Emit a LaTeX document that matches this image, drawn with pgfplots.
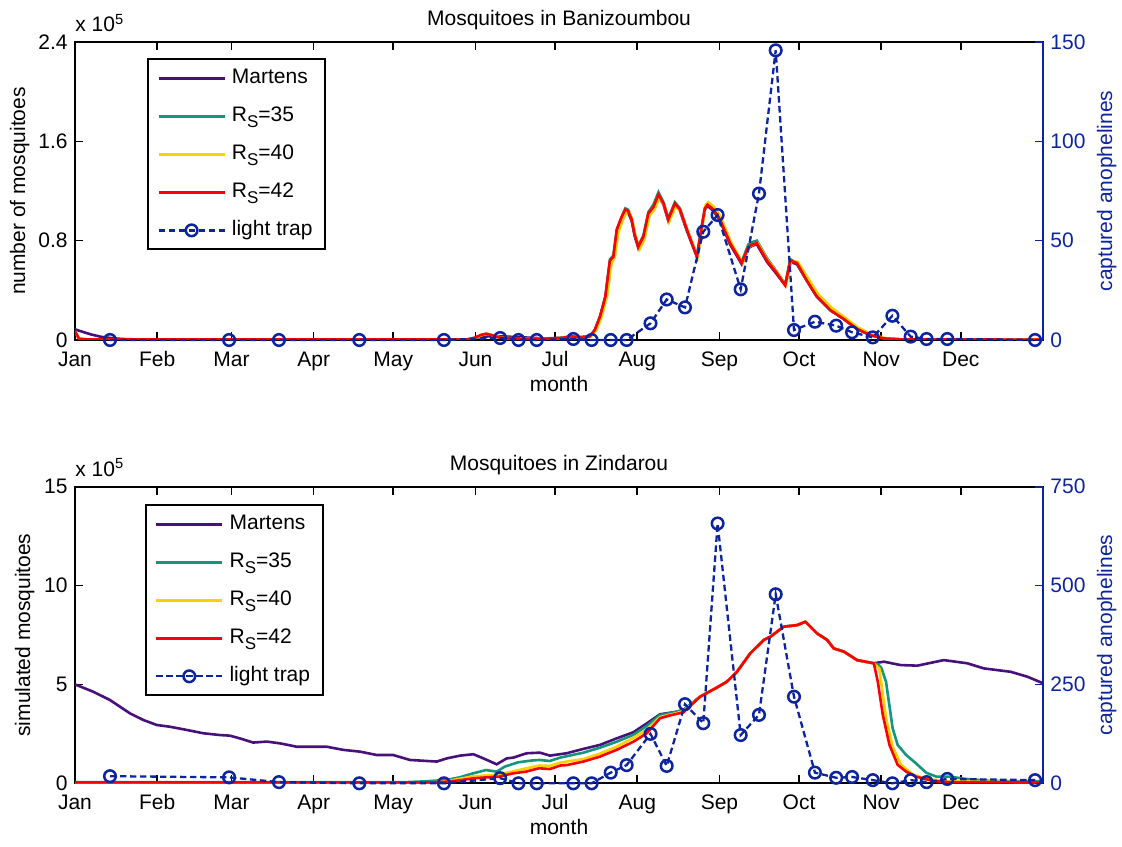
\documentclass[border=0pt]{standalone}
\usepackage{fontspec}
\setmainfont{Liberation Sans}
\usepackage{pgfplots}
\pgfplotsset{compat=1.18}
\usepackage{pgfplotstable}

\definecolor{cMar}{RGB}{72,16,122}
\definecolor{cG}{RGB}{20,150,125}
\definecolor{cY}{RGB}{255,208,0}
\definecolor{cR}{RGB}{255,0,0}
\definecolor{cB}{RGB}{12,36,160}

\newcommand{\RS}[1]{R\raisebox{-0.55ex}{\fontsize{8.5pt}{9pt}\selectfont S}=#1}

% ---------------- Banizoumbou (x 10^5) ----------------
\pgfplotstableread{
x y
0 0.086
3 0.065
6 0.045
10 0.025
15 0.012
20 0.006
30 0.004
148 0.005
152 0.02
156 0.03
160 0.03
165 0.025
170 0.02
178 0.012
185 0.02
190 0.025
194 0.027
196 0.08
198 0.19
200 0.35
201.7 0.63
203 0.66
204.3 0.88
206.1 0.98
207.5 1.04
208.5 1.03
209.9 0.96
211 0.84
212.4 0.74
214.3 0.82
216.2 1.01
218.1 1.06
220 1.16
221.9 1.09
223.7 0.96
226.2 1.09
228.1 1.04
230.7 0.88
234.5 0.67
236.3 0.90
237.5 1.05
238.5 1.08
240.7 1.04
243.2 0.96
247 0.77
251.4 0.61
253.9 0.74
255.5 0.76
257.1 0.77
260.9 0.63
264.6 0.53
267.8 0.44
269.7 0.63
272.2 0.61
275.9 0.48
279.7 0.35
284.8 0.24
289.8 0.17
294.8 0.09
299.8 0.04
304.9 0.013
311.2 0.005
365 0.003
}\topMar

\pgfplotstableread{
x y
0 0.07
1.5 0.01
5 0.004
148 0.005
151 0.02
153 0.04
155 0.05
157 0.04
160 0.02
166 0.012
176 0.01
183 0.015
187 0.03
191 0.02
194 0.027
196 0.08
198 0.19
200 0.35
201.7 0.65
203 0.68
204.3 0.89
206.1 0.99
207.5 1.06
208.5 1.05
209.9 0.98
211 0.86
212.4 0.76
214.3 0.84
216.2 1.03
218.1 1.09
220 1.19
221.9 1.11
223.7 0.98
226.2 1.11
228.1 1.06
230.7 0.90
234.5 0.68
236.3 0.91
237.5 1.06
238.5 1.09
240.7 1.05
243.2 0.97
247 0.79
251.4 0.63
253.9 0.77
255.5 0.79
257.1 0.80
260.9 0.66
264.6 0.55
267.8 0.45
269.7 0.65
272.2 0.62
275.9 0.48
279.7 0.35
284.8 0.24
289.8 0.17
294.8 0.09
299.8 0.04
304.9 0.013
311.2 0.005
365 0.003
}\topG

\pgfplotstableread{
x y
0 0.07
1.5 0.01
5 0.004
148 0.005
151.5 0.02
153.5 0.04
155.5 0.05
157.5 0.04
160.5 0.02
166 0.012
176 0.01
183 0.015
187 0.03
191 0.02
194.5 0.027
196.6 0.08
198.6 0.19
200.6 0.35
202.3 0.62
203.5 0.66
204.8 0.86
206.6 0.97
208 1.03
209 1.03
210.3 0.95
211.4 0.83
212.8 0.73
214.7 0.81
216.6 1.00
218.5 1.05
220.3 1.15
222.2 1.08
224 0.95
226.5 1.08
228.4 1.03
231 0.88
234.8 0.67
236.6 0.92
237.8 1.09
238.8 1.11
241 1.07
243.5 0.99
247.3 0.79
251.7 0.62
254.2 0.75
255.8 0.77
257.4 0.78
261.2 0.64
264.9 0.54
268 0.44
270 0.63
272.5 0.63
276.3 0.50
280.2 0.37
285.3 0.26
290.3 0.18
295.3 0.10
300.3 0.045
305.4 0.015
311.7 0.005
365 0.003
}\topY

\pgfplotstableread{
x y
0 0.07
1.5 0.01
5 0.004
148 0.005
151 0.02
153 0.04
155 0.05
157 0.04
160 0.02
166 0.012
176 0.01
183 0.015
187 0.03
191 0.02
194 0.027
196 0.08
198 0.19
200 0.35
201.7 0.64
203 0.67
204.3 0.89
206.1 0.99
207.5 1.05
208.5 1.04
209.9 0.97
211 0.85
212.4 0.75
214.3 0.83
216.2 1.02
218.1 1.07
220 1.17
221.9 1.10
223.7 0.97
226.2 1.10
228.1 1.05
230.7 0.89
234.5 0.67
236.3 0.91
237.5 1.06
238.5 1.09
240.7 1.05
243.2 0.97
247 0.78
251.4 0.62
253.9 0.75
255.5 0.77
257.1 0.78
260.9 0.64
264.6 0.54
267.8 0.44
269.7 0.64
272.2 0.62
275.9 0.48
279.7 0.35
284.8 0.24
289.8 0.17
294.8 0.09
299.8 0.04
304.9 0.013
311.2 0.005
365 0.003
}\topR

\pgfplotstableread{
x y
13.2 0
58.1 0
76.9 0
107.2 0
139.1 0
160.3 1
167.2 0
174.1 0
187.9 0.5
194.8 0
202 0
208 0
217 8.4
223.1 20.4
230 16.4
236.9 54.5
242.3 62.9
251 25.5
257.9 73.7
264.2 145.8
271.1 5
279 9.2
287 7.2
293 3.9
300.8 1.3
308.2 12.2
315.1 1.7
321.1 0.5
328.9 0.5
362 0
}\topTrap

% ---------------- Zindarou (x 10^5) ----------------
\pgfplotstableread{
x y
0 5.00
6.9 4.63
13.2 4.21
20.7 3.54
25.8 3.20
30.8 2.95
35.8 2.86
42.1 2.70
48.4 2.53
54.7 2.44
58.4 2.41
62.2 2.27
67.2 2.06
72.3 2.11
77.3 2.02
83.6 1.85
89.9 1.85
94.9 1.85
101.2 1.69
107.5 1.60
113.8 1.43
120 1.43
126.3 1.18
132.6 1.13
136.4 1.10
140.2 1.26
145.2 1.40
150.2 1.47
154 1.26
159 0.96
162.8 1.26
165.3 1.30
170.3 1.52
175.3 1.55
179.1 1.40
185.4 1.52
191.7 1.74
197.9 1.94
204.2 2.27
210.5 2.58
215.6 3.03
220.6 3.49
226.9 3.62
229.4 3.71
235.7 4.38
242 4.84
245.8 5.14
249.6 5.64
254.6 6.57
259.7 7.25
262.2 7.41
267.2 7.92
272.3 8.00
275.4 8.17
279.8 7.58
283.6 7.25
286.1 6.82
289.9 6.66
294.9 6.23
301.2 6.07
305 6.15
311.3 5.98
317.6 5.95
327.6 6.23
336.4 6.07
342.7 5.81
352.8 5.64
359.1 5.39
365 5.06
}\botMar

\pgfplotstableread{
x y
0 0.06
125 0.06
132 0.10
140 0.17
145 0.30
150 0.50
155 0.67
159 0.59
162 0.84
167 1.06
172 1.15
175 1.18
179 1.13
183 1.30
191.7 1.55
197.9 1.80
204.2 2.10
210.5 2.45
215.6 2.90
220.6 3.45
226.9 3.62
229.4 3.71
235.7 4.38
242 4.84
245.8 5.14
249.6 5.64
254.6 6.57
259.7 7.25
262.2 7.41
267.2 7.92
272.3 8.00
275.4 8.17
279.8 7.58
283.6 7.25
286.1 6.82
289.9 6.66
294.9 6.23
301.2 6.07
302.7 6.02
304 5.85
305.8 5.14
308.3 2.78
310.2 1.94
313.4 1.43
317.1 1.01
320.9 0.54
324.7 0.34
329.7 0.34
336 0.22
345 0.12
365 0.10
}\botG

\pgfplotstableread{
x y
0 0.05
135 0.05
140 0.10
150 0.35
155 0.40
160 0.45
165 0.60
170 0.75
175 0.90
179 0.88
183 1.05
191.7 1.23
197.9 1.50
204.2 1.85
210.5 2.30
215.6 2.70
220.6 3.35
226.9 3.55
229.4 3.65
235.7 4.38
242 4.84
245.8 5.14
249.6 5.64
254.6 6.57
259.7 7.25
262.2 7.41
267.2 7.92
272.3 8.00
275.4 8.17
279.8 7.58
283.6 7.25
286.1 6.82
289.9 6.66
294.9 6.23
301.2 6.07
303.3 5.80
305.8 3.30
308.3 1.85
311.5 0.93
315.9 0.45
320.9 0.22
330 0.10
365 0.06
}\botY

\pgfplotstableread{
x y
0 0.05
135 0.05
140 0.08
145 0.15
150 0.25
155 0.30
160 0.34
165 0.50
170 0.59
175 0.76
179 0.72
183 0.90
185.4 0.92
191.7 1.10
197.9 1.35
204.2 1.69
210.5 2.10
215.6 2.53
220.6 3.29
224 3.42
229.4 3.59
235.7 4.38
242 4.84
245.8 5.14
249.6 5.64
254.6 6.57
259.7 7.25
262.2 7.41
267.2 7.92
272.3 8.00
275.4 8.17
279.8 7.58
283.6 7.25
286.1 6.82
289.9 6.66
294.9 6.23
301.2 6.07
302.7 5.14
304.6 3.45
307.1 1.94
310.2 0.93
313.4 0.59
317.1 0.34
323.4 0.12
330 0.05
365 0.04
}\botR

\pgfplotstableread{
x y
13.2 18
58.1 15
76.9 3
107.2 0
139.1 0
160.3 13
167.2 0
174.1 0
187.9 0
194.8 0
202 27
208 46
217 125
223.1 44
230 200
236.9 152
242.3 657
251 122
257.9 173
264.2 478
271.1 219
279 27
287 14
293 16
300.8 8
308.2 0
315.1 8
321.1 3
328.9 11
362 8
}\botTrap

\pgfplotsset{
  base/.style={
    scale only axis, width=484pt, xmin=0, xmax=365,
    tick align=inside, major tick length=4pt,
    every tick/.style={line width=0.8pt},
    axis line style={line width=1pt},
  },
  leftax/.style={
    base,
    clip mode=individual,
    xtick={0,31,59,90,120,151,181,212,243,273,304,334},
    xticklabels={Jan,Feb,Mar,Apr,May,Jun,Jul,Aug,Sep,Oct,Nov,Dec},
    xticklabel style={anchor=base, yshift=-13.3pt},
    ytick pos=left,
    xlabel={month},
    every axis x label/.style={at={(axis description cs:0.5,0)}, anchor=base, yshift=-25.8pt},
    every axis title/.style={at={(axis description cs:0.5,1)}, anchor=base, yshift=8.3pt},
    legend cell align=left,
    legend image code/.code={\draw[mark repeat=2,mark phase=2,#1] plot coordinates {(0pt,0pt) (16.5pt,0pt) (33pt,0pt)};},
    legend style={anchor=north west, draw=black, line width=1pt, fill=white,
      inner xsep=4.5pt, inner ysep=2pt, row sep=4pt, column sep=1pt,
      nodes={inner sep=2pt, text height=8pt, text depth=3pt}},
  },
  rightax/.style={
    base,
    axis x line=none, axis y line*=right,
    y axis line style={color=cB, line width=1pt},
    ytick style={color=cB, line width=0.8pt},
    yticklabel style={text=cB},
    every axis y label/.style={at={(axis description cs:1.0657,0.5)}, rotate=90, anchor=center, text=cB},
    clip=false,
  },
  simline/.style={line width=1.3pt},
  trapline/.style={cB, line width=1.15pt, dash pattern=on 3.2pt off 1.8pt, mark=o, mark size=2.9pt, mark options={solid, line width=1.25pt}},
}

\begin{document}
\fontsize{10.5pt}{12.6pt}\selectfont
\begin{tikzpicture}
\useasboundingbox (0,0) rectangle (561pt,423pt);

% ===== top: Banizoumbou =====
\begin{axis}[leftax, at={(37.5pt,253pt)}, anchor=south west, height=149pt,
  ymin=0, ymax=2.4, ytick={0,0.8,1.6,2.4}, yticklabels={0,0.8,1.6,2.4},
  title={Mosquitoes in Banizoumbou},
  ylabel={number of mosquitoes},
  every axis y label/.style={at={(axis description cs:-0.057,0.5)}, rotate=90, anchor=center},
  legend style={at={(0.0747,0.945)}}]
\addplot[cMar, simline] table {\topMar}; \addlegendentry{Martens}
\addplot[cG, simline] table {\topG}; \addlegendentry{\RS{35}}
\addplot[cY, simline] table {\topY}; \addlegendentry{\RS{40}}
\addplot[cR, simline] table {\topR}; \addlegendentry{\RS{42}}
\addlegendimage{trapline}
\addlegendentry{light trap}
\node[anchor=base west, inner sep=0pt] at (rel axis cs:0,1) [yshift=5pt] {x 10\textsuperscript{5}};
\end{axis}
\begin{axis}[rightax, at={(37.5pt,253pt)}, anchor=south west, height=149pt,
  ymin=0, ymax=150, ytick={0,50,100,150}, yticklabels={0,50,100,150},
  ylabel={captured anophelines}]
\addplot[trapline] table {\topTrap};
\end{axis}

% ===== bottom: Zindarou =====
\begin{axis}[leftax, at={(37.5pt,31.35pt)}, anchor=south west, height=148.3pt,
  ymin=0, ymax=15, ytick={0,5,10,15}, yticklabels={0,5,10,15},
  title={Mosquitoes in Zindarou},
  ylabel={simulated mosquitoes},
  every axis y label/.style={at={(axis description cs:-0.052,0.5)}, rotate=90, anchor=center},
  legend style={at={(0.0723,0.9407)}}]
\addplot[cMar, simline] table {\botMar}; \addlegendentry{Martens}
\addplot[cG, simline] table {\botG}; \addlegendentry{\RS{35}}
\addplot[cY, simline] table {\botY}; \addlegendentry{\RS{40}}
\addplot[cR, simline] table {\botR}; \addlegendentry{\RS{42}}
\addlegendimage{trapline}
\addlegendentry{light trap}
\node[anchor=base west, inner sep=0pt] at (rel axis cs:0,1) [yshift=5pt] {x 10\textsuperscript{5}};
\end{axis}
\begin{axis}[rightax, at={(37.5pt,31.35pt)}, anchor=south west, height=148.3pt,
  ymin=0, ymax=750, ytick={0,250,500,750}, yticklabels={0,250,500,750},
  ylabel={captured anophelines}]
\addplot[trapline] table {\botTrap};
\end{axis}
\end{tikzpicture}
\end{document}
